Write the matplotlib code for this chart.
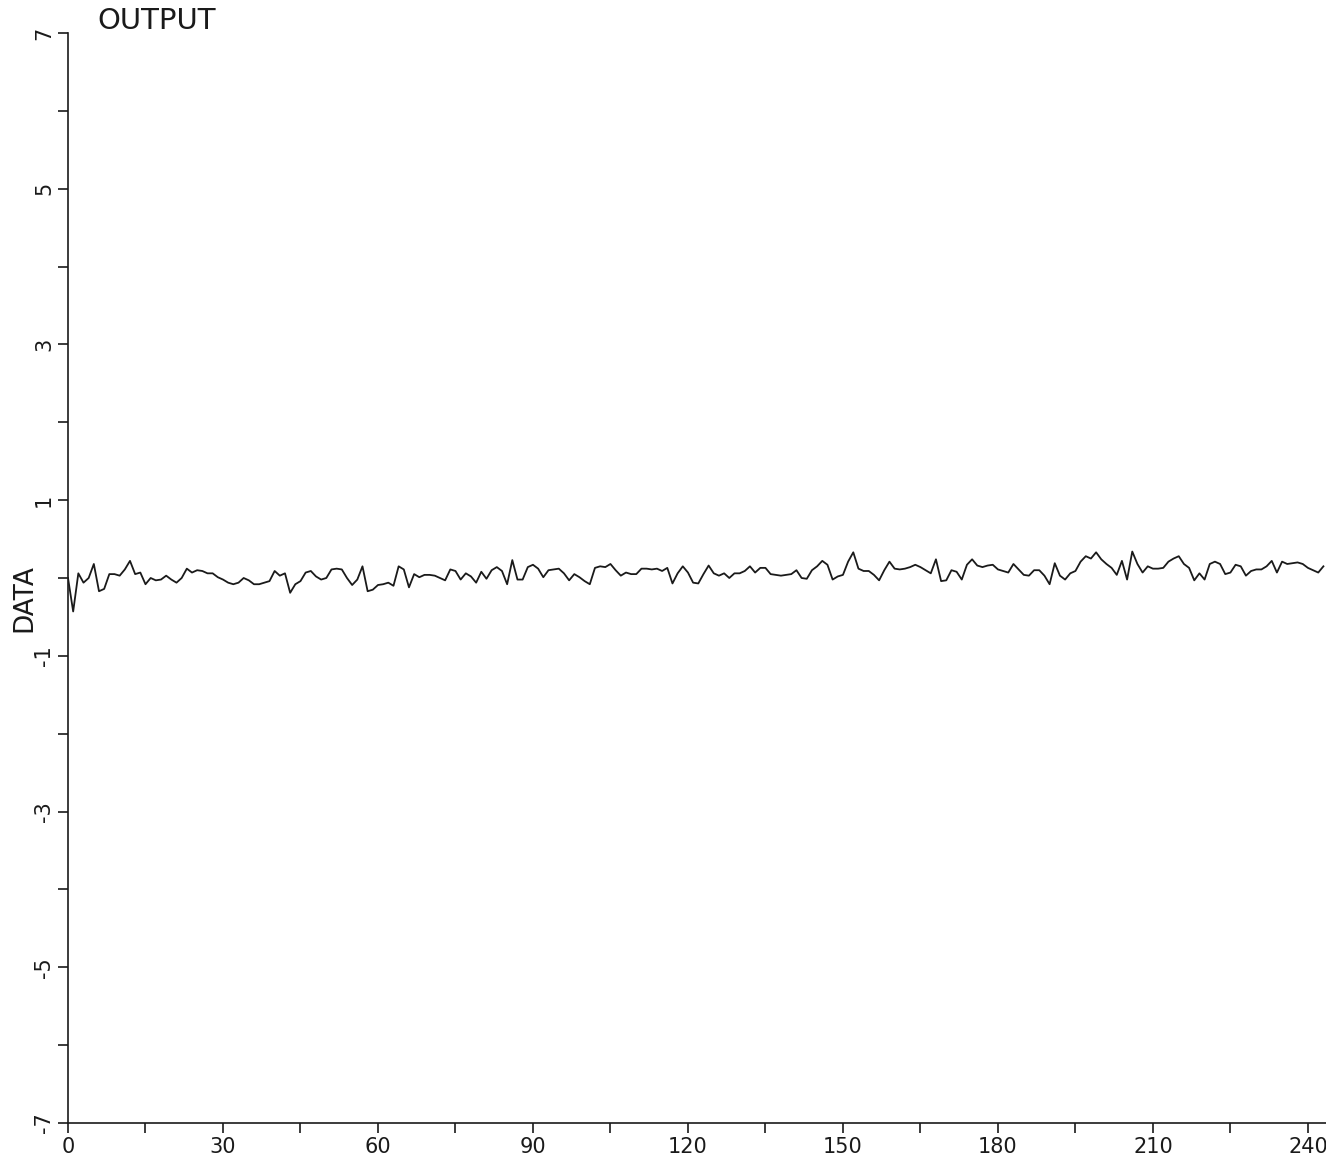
import numpy as np
import matplotlib
matplotlib.use("Agg")
from matplotlib import pyplot as plt

# Output series, one sample per time step (0..243)
output_data = [
    0.00, -0.43, 0.06, -0.06, 0.00, 0.18, -0.17, -0.14, 0.05, 0.05,
    0.03, 0.11, 0.22, 0.05, 0.07, -0.08, 0.00, -0.03, -0.02, 0.03,
    -0.02, -0.06, 0.00, 0.12, 0.07, 0.10, 0.09, 0.06, 0.06, 0.01,
    -0.02, -0.06, -0.08, -0.06, 0.00, -0.03, -0.08, -0.08, -0.06, -0.04,
    0.09, 0.03, 0.06, -0.19, -0.08, -0.04, 0.07, 0.09, 0.02, -0.02,
    0.00, 0.11, 0.12, 0.11, 0.00, -0.09, -0.02, 0.15, -0.17, -0.15,
    -0.09, -0.08, -0.06, -0.10, 0.15, 0.11, -0.12, 0.05, 0.01, 0.04,
    0.04, 0.03, 0.00, -0.03, 0.11, 0.09, -0.02, 0.06, 0.02, -0.06,
    0.08, -0.01, 0.10, 0.14, 0.09, -0.08, 0.23, -0.02, -0.02, 0.14,
    0.17, 0.12, 0.01, 0.10, 0.11, 0.12, 0.06, -0.03, 0.05, 0.01,
    -0.04, -0.08, 0.13, 0.15, 0.14, 0.18, 0.10, 0.03, 0.07, 0.05,
    0.05, 0.12, 0.12, 0.11, 0.12, 0.09, 0.13, -0.07, 0.06, 0.15,
    0.07, -0.06, -0.07, 0.05, 0.16, 0.06, 0.03, 0.06, 0.00, 0.06,
    0.06, 0.09, 0.15, 0.07, 0.13, 0.13, 0.05, 0.04, 0.03, 0.04,
    0.05, 0.10, 0.00, -0.01, 0.10, 0.15, 0.22, 0.17, -0.02, 0.02,
    0.04, 0.21, 0.33, 0.12, 0.09, 0.09, 0.04, -0.03, 0.10, 0.21,
    0.12, 0.11, 0.12, 0.14, 0.17, 0.14, 0.10, 0.06, 0.24, -0.04,
    -0.03, 0.10, 0.08, -0.02, 0.17, 0.24, 0.16, 0.14, 0.16, 0.17,
    0.11, 0.09, 0.07, 0.18, 0.11, 0.04, 0.03, 0.10, 0.10, 0.03,
    -0.08, 0.19, 0.03, -0.02, 0.06, 0.09, 0.21, 0.28, 0.25, 0.33,
    0.24, 0.18, 0.13, 0.04, 0.22, -0.02, 0.34, 0.18, 0.07, 0.15,
    0.12, 0.12, 0.13, 0.21, 0.25, 0.28, 0.18, 0.13, -0.03, 0.06,
    -0.02, 0.18, 0.21, 0.18, 0.05, 0.07, 0.17, 0.15, 0.03, 0.09,
    0.11, 0.11, 0.15, 0.22, 0.07, 0.21, 0.18, 0.19, 0.20, 0.18,
    0.13, 0.10, 0.07, 0.15,
]
time_steps = np.arange(len(output_data))

x_ticks = list(range(0, 241, 15))
x_labels = [str(v) if v % 30 == 0 else "" for v in x_ticks]
y_ticks = list(range(-7, 8))
y_labels = [str(v) if v % 2 != 0 else "" for v in y_ticks]

ink = "#1a1a1a"

fig = plt.figure(figsize=(13.26, 11.58), dpi=100)
ax = fig.add_axes([68 / 1326, 1 - 1123 / 1158, 1 - 68 / 1326, (1123 - 33) / 1158])

ax.plot(time_steps, output_data, color=ink, linewidth=1.3)

ax.set_xlim(0, 243.5)
ax.set_ylim(-7, 7)

ax.set_xticks(x_ticks)
ax.set_xticklabels(x_labels)
ax.set_yticks(y_ticks)
ax.set_yticklabels(y_labels, rotation=90, va="center")

ax.spines["top"].set_visible(False)
ax.spines["right"].set_visible(False)
for side in ("left", "bottom"):
    ax.spines[side].set_color(ink)
    ax.spines[side].set_linewidth(1.2)

ax.tick_params(direction="out", length=7, width=1.2, colors=ink,
               labelsize=15, pad=3)

fig.text(97 / 1326, 1 - 21 / 1158, "OUTPUT", fontsize=21, color=ink,
         ha="left", va="center")
fig.text(24 / 1326, 1 - 598 / 1158, "DATA", fontsize=19, color=ink,
         rotation=90, ha="center", va="center")

fig.savefig("out.png", dpi=100, facecolor="white")
